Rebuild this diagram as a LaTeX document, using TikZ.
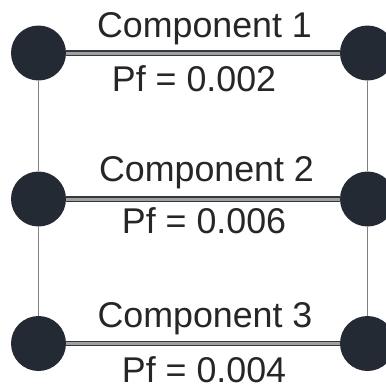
\documentclass[tikz,border=0pt]{standalone}
\usepackage{fontspec}
\setmainfont{Liberation Sans}
\definecolor{dotc}{HTML}{232A33}
\definecolor{txtc}{HTML}{262626}
\definecolor{vline}{HTML}{808080}
\definecolor{linec}{HTML}{33383F}
\definecolor{linefill}{HTML}{A0A0A0}
\begin{document}
\begin{tikzpicture}[x=1pt,y=-1pt,
  dot/.style={circle,fill=dotc,draw=none,minimum size=55pt,inner sep=0pt},
  lbl/.style={anchor=base,text=txtc,font=\fontsize{35.8}{42}\selectfont,inner sep=0pt},
  comp/.style={draw=linec,line width=1.4pt,double=linefill,double distance=3pt},
  side/.style={draw=vline,line width=1pt}]
\useasboundingbox (0,0) rectangle (386,389);
\node[dot] (L1) at (38.5,53) {};
\node[dot] (L2) at (38.5,199) {};
\node[dot] (L3) at (38.5,343.5) {};
\node[dot] (R1) at (367.5,53) {};
\node[dot] (R2) at (367.5,199) {};
\node[dot] (R3) at (367.5,343.5) {};
\draw[side] (L1) -- (L2);
\draw[side] (L2) -- (L3);
\draw[side] (R1) -- (R2);
\draw[side] (R2) -- (R3);
\draw[comp] (L1) -- (R1);
\draw[comp] (L2) -- (R2);
\draw[comp] (L3) -- (R3);
\node[lbl] (c1) at (204.5,37) {Component 1};
\node[lbl] (p1) at (194,91.5) {Pf = 0.002};
\node[lbl] (c2) at (206.5,181) {Component 2};
\node[lbl] (p2) at (204,233) {Pf = 0.006};
\node[lbl] (c3) at (205,327) {Component 3};
\node[lbl] (p3) at (204,382) {Pf = 0.004};
\end{tikzpicture}
\end{document}
